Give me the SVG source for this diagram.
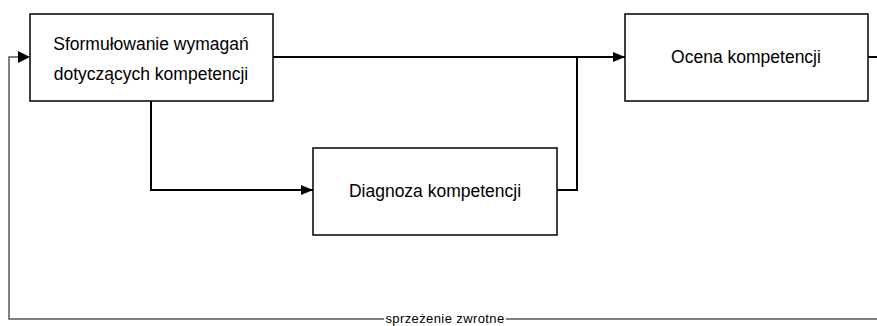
<svg xmlns="http://www.w3.org/2000/svg" width="877" height="326" viewBox="0 0 877 326">
<style>
.box{fill:#fff;stroke:#000;stroke-width:1.5}
.t{font-family:"Liberation Sans",Arial,sans-serif;font-size:17.5px;fill:#000;text-anchor:middle}
.c{fill:none;stroke:#000;stroke-width:2}
.fb{fill:none;stroke:#555;stroke-width:1.5}
.lbl{font-family:"Liberation Sans",Arial,sans-serif;font-size:13px;letter-spacing:0.4px;fill:#000;text-anchor:middle}
</style>
<defs>
<marker id="arr" viewBox="0 0 12 10" refX="12" refY="5" markerWidth="12" markerHeight="10" markerUnits="userSpaceOnUse" orient="auto">
<path d="M0,0 L12,5 L0,10 Z" fill="#000"/>
</marker>
</defs>
<rect width="877" height="326" fill="#fff"/>
<g id="connectors">
<path class="c" d="M273,57 L625,57" marker-end="url(#arr)"/>
<path class="c" d="M151,101 L151,190 L313,190" marker-end="url(#arr)"/>
<path class="c" d="M557,190 L577,190 L577,57"/>
<path class="c" d="M868,57 L877,57" stroke-width="1.5"/>
<path class="fb" d="M877,319 L9,319 L9,57 L20,57"/>
<path d="M18,51 L30,57 L18,63 Z" fill="#000"/>
<rect x="384" y="312" width="122" height="14" fill="#fff"/>
<text class="lbl" x="445" y="322.5">sprzeżenie zwrotne</text>
</g>
<g id="node-wymagania">
<rect class="box" x="30" y="14" width="243" height="87"/>
<text class="t" x="151" y="50">Sformułowanie wymagań</text>
<text class="t" x="151" y="80">dotyczących kompetencji</text>
</g>
<g id="node-ocena">
<rect class="box" x="625" y="14" width="243" height="87"/>
<text class="t" x="746" y="63">Ocena kompetencji</text>
</g>
<g id="node-diagnoza">
<rect class="box" x="313" y="148" width="244" height="87"/>
<text class="t" x="435" y="197">Diagnoza kompetencji</text>
</g>
</svg>
